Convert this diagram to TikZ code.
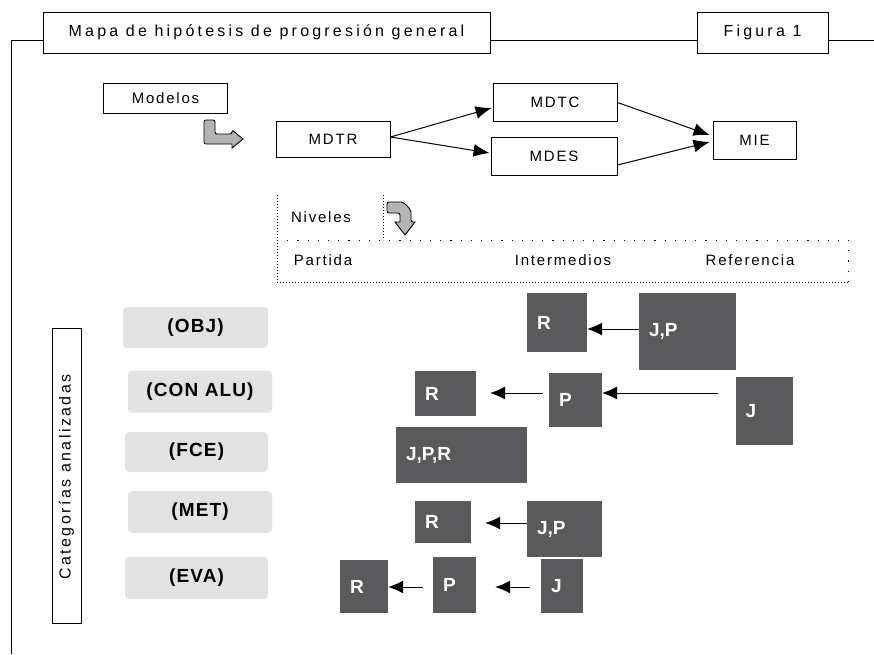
\documentclass[tikz,border=0pt]{standalone}
\usepackage{fontspec}
\setmainfont{Liberation Sans}
\newfontfamily\headfont[LetterSpace=20]{Liberation Sans}
\newfontfamily\spaced[LetterSpace=12]{Liberation Sans}
\newfontfamily\sidefont[LetterSpace=15]{Liberation Sans}
\newfontfamily\spacedb[LetterSpace=6]{Liberation Sans}
\usetikzlibrary{arrows.meta}
\definecolor{boxdark}{HTML}{5A5A5C}
\definecolor{boxlight}{HTML}{E2E2E2}
\definecolor{arrowfill}{HTML}{B4B4B4}
\tikzset{
  hbox/.style={draw, fill=white, line width=0.9pt, inner sep=0pt,
    font=\headfont\fontsize{16}{16}\selectfont},
  wbox/.style={draw, fill=white, line width=0.9pt, inner sep=0pt,
    font=\spaced\fontsize{15}{15}\selectfont},
  catbox/.style={fill=boxlight, rounded corners=4pt, inner sep=0pt,
    font=\spacedb\bfseries\fontsize{19}{19}\selectfont},
  dkbox/.style={fill=boxdark, text=white, inner xsep=10pt, inner ysep=0pt,
    align=left, font=\bfseries\fontsize{19}{19}\selectfont},
  lvl/.style={font=\spaced\fontsize{15}{15}\selectfont, inner sep=0pt},
  link/.style={line width=1pt, -{Latex[length=15pt,width=13pt]}},
  flow/.style={line width=1pt, -{Latex[length=16pt,width=13pt]}},
  frame/.style={line width=0.9pt},
  dotline/.style={line width=1pt, dash pattern=on 1pt off 2pt},
  dotsparse/.style={line width=1pt, dash pattern=on 1.2pt off 9pt}
}
\begin{document}
\begin{tikzpicture}[x=1pt,y=-1pt]
\useasboundingbox (0,0) rectangle (874,654);

% outer frame
\draw[frame] (11,654) -- (11,40) -- (874,40);

% heading boxes
\node[hbox, minimum width=447, minimum height=41] (title) at (266.5,32.5)
  {Mapa de hipótesis de progresión general};
\node[hbox, minimum width=131, minimum height=41] (fig) at (762.5,32.5)
  {Figura 1};

% models
\node[wbox, minimum width=124, minimum height=30] (modelos) at (165.5,98) {Modelos};
\node[wbox, minimum width=114, minimum height=36] (mdtr) at (333,139) {MDTR};
\node[wbox, minimum width=124, minimum height=38] (mdtc) at (555,102.5) {MDTC};
\node[wbox, minimum width=126, minimum height=38] (mdes) at (554,156.5) {MDES};
\node[wbox, minimum width=83, minimum height=38] (mie) at (754.5,140) {MIE};

\draw[flow] ([yshift=2pt]mdtr.east) -- ([xshift=-1pt,yshift=-5.5pt]mdtc.west);
\draw[flow] ([yshift=2pt]mdtr.east) -- ([xshift=-1pt,yshift=3.5pt]mdes.west);
\draw[flow] (mdtc.east) -- ([xshift=-3pt,yshift=5pt]mie.west);
\draw[flow] ([yshift=-8.5pt]mdes.east) -- ([xshift=-3pt,yshift=-2pt]mie.west);

% hollow bent arrow below Modelos
\draw[line width=0.9pt, fill=arrowfill, rounded corners=2pt]
  (204,120) -- (215,120) -- (215,134) -- (232,134) -- (232,130)
  [sharp corners] -- (243,139) -- (232,148) -- (232,144)
  [rounded corners=2pt] -- (204,144) -- cycle;

% levels
\draw[dotsparse] (277,240) -- (848,240);
\draw[dotline] (277,282) -- (848,282);
\draw[dotline] (277,240) -- (277,282);
\draw[dotsparse] (848,240) -- (848,282);
\draw[dotline] (277,195) -- (277,240);
\draw[dotline] (383,195) -- (383,240);
\node[lvl] (niveles) at (321,217) {Niveles};
\node[lvl] (partida) at (323,260) {Partida};
\node[lvl] (interm) at (563,260) {Intermedios};
\node[lvl] (refer) at (750,260) {Referencia};

% hollow bent arrow next to Niveles
\draw[line width=0.9pt, fill=arrowfill, rounded corners=2pt]
  (387,202) -- (403,202) -- (411,210) -- (411,222)
  [sharp corners] -- (415,222) -- (405,235) -- (395,222) -- (400,222)
  [rounded corners=2pt] -- (400,213) -- (387,213) -- cycle;

% analysed categories
\node[draw, line width=0.9pt, minimum width=29, minimum height=295, inner sep=0pt]
  (catframe) at (66.5,475.5) {};
\node[rotate=90, font=\sidefont\fontsize{16}{16}\selectfont] (cattext) at (66.5,477)
  {Categorías analizadas};

\node[catbox, minimum width=145, minimum height=41] (obj) at (195.5,327.5) {(OBJ)};
\node[catbox, minimum width=144, minimum height=42] (conalu) at (200,391.5) {(CON ALU)};
\node[catbox, minimum width=143, minimum height=40] (fce) at (196.5,452) {(FCE)};
\node[catbox, minimum width=144, minimum height=42] (met) at (200,512) {(MET)};
\node[catbox, minimum width=143, minimum height=42] (eva) at (196.5,578) {(EVA)};

% OBJ row
\node[dkbox, text width=40, minimum height=59] (objr) at (557,322.5) {R};
\node[dkbox, text width=77, minimum height=77] (objjp) at (687.5,331.5) {J,P};
\coordinate (objrow) at (0,329);
\draw[link] (objjp.west |- objrow) -- (objr.east |- objrow);

% CONALU row
\node[dkbox, text width=41, minimum height=45] (conr) at (445.5,393.5) {R};
\node[dkbox, text width=33, minimum height=54] (conp) at (575.5,400) {P};
\node[dkbox, text width=37, minimum height=68] (conj) at (764,411) {J};
\coordinate (conjend) at (718,393);
\coordinate (conpend) at (543,393);
\draw[link, line width=0.6pt] (conjend) -- (conp.east |- conjend);
\draw[link, line width=0.6pt] (conpend) -- ([xshift=14pt]conr.east |- conpend);

% FCE row
\node[dkbox, text width=111, minimum height=56] (fcejpr) at (461.5,455) {J,P,R};

% MET row
\node[dkbox, text width=36, minimum height=42] (metr) at (443,522) {R};
\node[dkbox, text width=55, minimum height=56] (metjp) at (564.5,529) {J,P};
\coordinate (metrow) at (0,523);
\draw[link] (metjp.west |- metrow) -- ([xshift=14pt]metr.east |- metrow);

% EVA row
\node[dkbox, text width=28, minimum height=53] (evar) at (364,586.5) {R};
\node[dkbox, text width=23, minimum height=56] (evap) at (454.5,585) {P};
\node[dkbox, text width=22, minimum height=54] (evaj) at (562,586) {J};
\coordinate (evapend) at (423,587);
\coordinate (evajend) at (530,587);
\draw[link] (evapend) -- (evar.east |- evapend);
\draw[link] (evajend) -- ([xshift=19pt]evap.east |- evajend);
\end{tikzpicture}
\end{document}
